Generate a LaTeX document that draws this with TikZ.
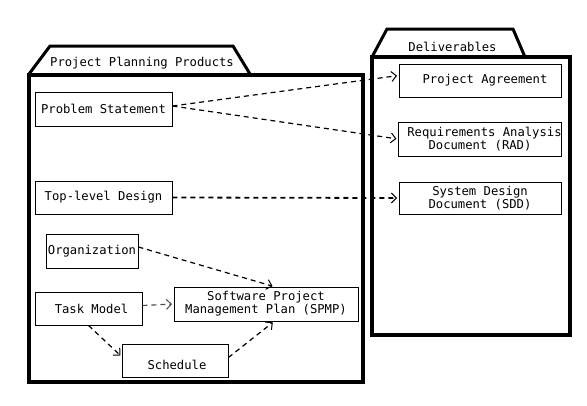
\documentclass[tikz,border=0pt]{standalone}
\usepackage{fontspec}
\setmonofont{DejaVu Sans Mono}
\usetikzlibrary{arrows.meta}
\begin{document}
\begin{tikzpicture}[x=1pt,y=-1pt,
  mono/.style={font=\ttfamily\fontsize{12.2}{11}\selectfont},
  box/.style={draw,line width=0.9pt,inner sep=0pt,mono,align=center},
  dep/.style={draw,line width=1.2pt,dash pattern=on 5pt off 4pt,shorten >=1.5pt,
    -{Straight Barb[length=5pt,width=10pt,line width=1pt]}},
  tabline/.style={draw,line width=3pt,line join=miter},
  pkgbody/.style={draw,line width=4pt,line join=miter}]
\useasboundingbox[fill=white] (0,0) rectangle (587,405);
% packages
\draw[tabline] (29,74) -- (50,46) -- (233,46) -- (250,74);
\draw[pkgbody] (29,75) rectangle (363,382);
\node[mono,inner sep=0pt] (ppp) at (142,63) {Project Planning Products};
\draw[tabline] (372,57) -- (387,29) -- (513,29) -- (525,57);
\draw[pkgbody] (372,57) rectangle (570,335);
\node[mono,inner sep=0pt] (del) at (452.5,47) {Deliverables};
% nodes
\node[box,minimum width=137pt,minimum height=34pt] (ps) at (103.5,109) {Problem Statement};
\node[box,minimum width=137pt,minimum height=33pt] (tld) at (103.5,197.5) {Top-level Design};
\node[box,minimum width=92pt,minimum height=34pt] (org) at (92,251) {Organization};
\node[box,minimum width=107pt,minimum height=33pt] (task) at (88.5,308.5) {\hspace{6pt}Task Model};
\node[box,minimum width=184pt,minimum height=34pt] (spmp) at (266,304) {Software Project\\Management Plan (SPMP)};
\node[box,minimum width=106pt,minimum height=33pt] (sched) at (175,360.5) {\hspace{4pt}\raisebox{-9pt}[0pt][0pt]{Schedule}};
\node[box,minimum width=162pt,minimum height=33pt] (pa) at (480,80.5) {\hspace{10pt}Project Agreement};
\node[box,minimum width=162pt,minimum height=34pt] (rad) at (480,139) {\hspace{9pt}Requirements Analysis\\Document (RAD)};
\node[box,minimum width=162pt,minimum height=32pt] (sdd) at (480,198) {System Design\\Document (SDD)};
% dependencies
\draw[dep] ([yshift=3pt]ps.east) -- ([yshift=5pt]pa.west);
\draw[dep] ([yshift=3pt]ps.east) -- (rad.west);
\draw[dep,line width=1.8pt] (tld.east) -- (sdd.west);
\draw[dep] ([yshift=4pt]org.east) -- ([xshift=8pt]spmp.north);
\draw[dep,draw=black!70] ([yshift=3pt]task.east) -- ([yshift=0pt]spmp.west);
\draw[dep] (task.south) -- ([yshift=4pt]sched.west);
\draw[dep] ([yshift=3pt]sched.east) -- ([xshift=8pt]spmp.south);
\end{tikzpicture}
\end{document}
